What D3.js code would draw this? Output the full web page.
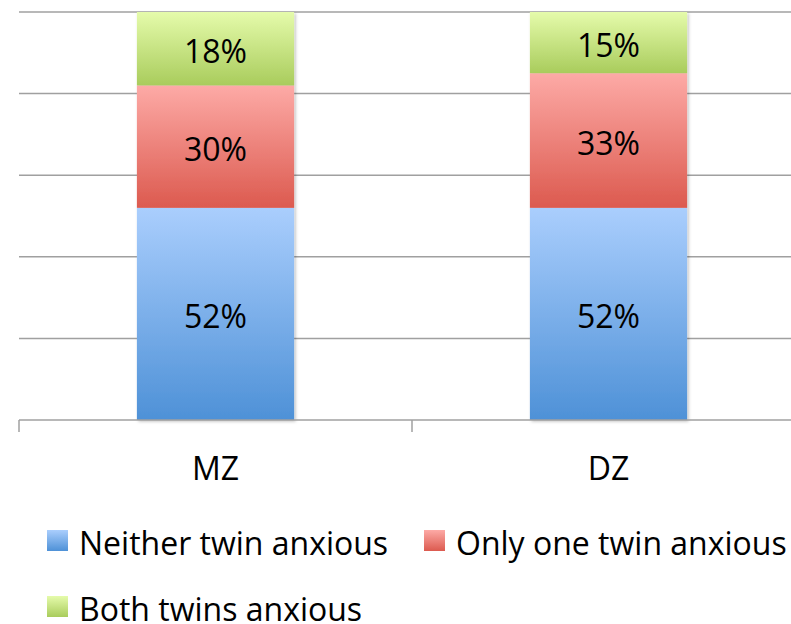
<!DOCTYPE html>
<html>
<head>
<meta charset="utf-8">
<script src="https://cdn.jsdelivr.net/npm/d3@7"></script>
<style>
  body { margin: 0; background: #fff; }
  svg { display: block; }
  text { font-family: "Open Sans", sans-serif; fill: #000; }
</style>
</head>
<body>
<div id="chart"></div>
<script>
// data
const categories = ["MZ", "DZ"];
const seriesNames = ["Neither twin anxious", "Only one twin anxious", "Both twins anxious"];
const neither = [52, 52];
const onlyOne = [30, 33];
const both = [18, 15];
const yTicks = [0, 20, 40, 60, 80, 100];

// colours, top and bottom of each gradient
const gradColors = [
  ["#aacefd", "#4e91d7"],
  ["#fdaaa6", "#dc5a4f"],
  ["#e5fbab", "#a9cc5c"]
];

const w = 791, h = 624;
const plotLeft = 19, plotRight = 805, plotTop = 12, plotBottom = 420;

const svg = d3.select("#chart").append("svg")
  .attr("width", w)
  .attr("height", h);

const defs = svg.append("defs");
gradColors.forEach((c, i) => {
  const g = defs.append("linearGradient")
    .attr("id", "grad" + i)
    .attr("x1", 0).attr("y1", 0).attr("x2", 0).attr("y2", 1);
  g.append("stop").attr("offset", "0%").attr("stop-color", c[0]);
  g.append("stop").attr("offset", "100%").attr("stop-color", c[1]);
});
const shadow = defs.append("filter").attr("id", "shadow")
  .attr("x", "-10%").attr("y", "-10%").attr("width", "130%").attr("height", "130%");
shadow.append("feDropShadow")
  .attr("dx", 1.5).attr("dy", 1.5).attr("stdDeviation", 1.5)
  .attr("flood-color", "#000").attr("flood-opacity", 0.25);

const xScale = d3.scaleBand()
  .domain(categories)
  .range([plotLeft, plotRight]);

const yScale = d3.scaleLinear()
  .domain([0, 100])
  .range([plotBottom, plotTop]);

// gridlines
svg.append("g")
  .selectAll("line")
  .data(yTicks.filter(t => t > 0))
  .enter()
  .append("line")
  .attr("x1", plotLeft)
  .attr("x2", w)
  .attr("y1", d => yScale(d))
  .attr("y2", d => yScale(d))
  .attr("stroke", "#a0a0a0")
  .attr("stroke-width", 1.5);

// stack the series
const rows = categories.map((c, i) => ({
  cat: c, s0: neither[i], s1: onlyOne[i], s2: both[i]
}));
const stacked = d3.stack().keys(["s0", "s1", "s2"])(rows);

const barW = xScale.bandwidth() * 0.4;
const barX = d => xScale(d.data.cat) + (xScale.bandwidth() - barW) / 2;

const layers = svg.append("g").attr("filter", "url(#shadow)")
  .selectAll("g")
  .data(stacked)
  .enter()
  .append("g")
  .attr("fill", (d, i) => "url(#grad" + i + ")");

layers.selectAll("rect")
  .data(d => d)
  .enter()
  .append("rect")
  .attr("x", barX)
  .attr("width", barW)
  .attr("y", d => yScale(d[1]))
  .attr("height", d => yScale(d[0]) - yScale(d[1]));

// data labels
svg.append("g")
  .selectAll("g")
  .data(stacked)
  .enter()
  .append("g")
  .selectAll("text")
  .data(d => d)
  .enter()
  .append("text")
  .attr("x", d => barX(d) + barW / 2)
  .attr("y", d => (yScale(d[0]) + yScale(d[1])) / 2 + 14.5)
  .attr("text-anchor", "middle")
  .style("font-size", "32px")
  .text(d => (d[1] - d[0]) + "%");

// x axis
const xAxis = d3.axisBottom(xScale).tickSize(0).tickFormat(d => d);
const gx = svg.append("g")
  .attr("transform", "translate(0," + plotBottom + ")")
  .call(xAxis);
gx.select(".domain").remove();
gx.selectAll("text")
  .attr("y", 60)
  .attr("dy", 0)
  .style("font-size", "32px")
  .style("font-family", "'Open Sans', sans-serif")
  .attr("fill", "#000");

svg.append("line")
  .attr("x1", plotLeft).attr("x2", w)
  .attr("y1", plotBottom).attr("y2", plotBottom)
  .attr("stroke", "#a0a0a0").attr("stroke-width", 1.5);

// category boundary ticks
const boundaries = categories.map(c => xScale(c)).concat([plotRight]);
svg.append("g")
  .selectAll("line")
  .data(boundaries)
  .enter()
  .append("line")
  .attr("x1", d => d).attr("x2", d => d)
  .attr("y1", plotBottom).attr("y2", plotBottom + 12)
  .attr("stroke", "#a0a0a0").attr("stroke-width", 1.5);

// legend
const legendPos = [[47, 530], [424, 530], [47, 596]];
const legend = svg.append("g")
  .selectAll("g")
  .data(seriesNames)
  .enter()
  .append("g")
  .attr("transform", (d, i) => "translate(" + legendPos[i][0] + "," + legendPos[i][1] + ")");

legend.append("rect")
  .attr("width", 21)
  .attr("height", 21)
  .attr("fill", (d, i) => "url(#grad" + i + ")");

legend.append("text")
  .attr("x", 32)
  .attr("y", 25)
  .style("font-size", "32px")
  .text(d => d);
</script>
</body>
</html>
